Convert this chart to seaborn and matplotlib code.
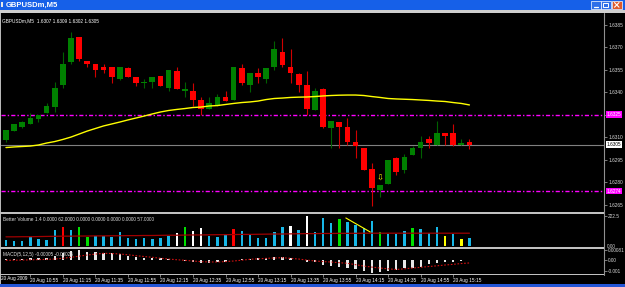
import matplotlib
matplotlib.use("Agg")
import matplotlib.pyplot as plt
from matplotlib.patches import Rectangle
from matplotlib.transforms import blended_transform_factory
import numpy as np
import pandas as pd
import seaborn as sns

# %% data  GBPUSDm M5, 20 Aug 2009 10:40 .. 15:25 (58 bars)
symbol = "GBPUSDm,M5"
opens = [1.6308, 1.6314, 1.6317, 1.6319, 1.6322, 1.6326, 1.6330, 1.6345, 1.6360, 1.6377,
         1.6361, 1.6359, 1.6357, 1.6357, 1.6349, 1.6356, 1.6350, 1.6346, 1.6347, 1.6351,
         1.6343, 1.6354, 1.6341, 1.6341, 1.6335, 1.6329, 1.6331, 1.6337, 1.6335, 1.6356,
         1.6345, 1.6353, 1.6349, 1.6357, 1.6367, 1.6357, 1.6352, 1.6345, 1.6328, 1.6342,
         1.6316, 1.6320, 1.6317, 1.6307, 1.6303, 1.6289, 1.6275, 1.6279, 1.6296, 1.6288,
         1.6298, 1.6303, 1.6309, 1.6305, 1.6313, 1.6313, 1.6305, 1.6307]
highs = [1.6315, 1.6319, 1.6321, 1.6326, 1.6325, 1.6333, 1.6347, 1.6367, 1.6380, 1.6377,
         1.6361, 1.6359, 1.6359, 1.6357, 1.6357, 1.6357, 1.6350, 1.6349, 1.6350, 1.6351,
         1.6355, 1.6357, 1.6347, 1.6346, 1.6337, 1.6337, 1.6339, 1.6341, 1.6357, 1.6359,
         1.6353, 1.6356, 1.6356, 1.6374, 1.6376, 1.6369, 1.6353, 1.6354, 1.6343, 1.6343,
         1.6321, 1.6320, 1.6323, 1.6315, 1.6303, 1.6293, 1.6278, 1.6295, 1.6297, 1.6299,
         1.6304, 1.6311, 1.6311, 1.6321, 1.6313, 1.6319, 1.6309, 1.6309]
lows = [1.6307, 1.6314, 1.6316, 1.6319, 1.6320, 1.6326, 1.6327, 1.6343, 1.6359, 1.6361,
        1.6357, 1.6350, 1.6353, 1.6346, 1.6348, 1.6350, 1.6344, 1.6343, 1.6343, 1.6344,
        1.6341, 1.6342, 1.6337, 1.6331, 1.6325, 1.6329, 1.6331, 1.6334, 1.6335, 1.6345,
        1.6340, 1.6346, 1.6346, 1.6355, 1.6357, 1.6346, 1.6340, 1.6325, 1.6328, 1.6316,
        1.6303, 1.6303, 1.6305, 1.6296, 1.6288, 1.6264, 1.6270, 1.6279, 1.6285, 1.6286,
        1.6298, 1.6296, 1.6303, 1.6305, 1.6305, 1.6304, 1.6305, 1.6302]
closes = [1.6315, 1.6319, 1.6320, 1.6323, 1.6325, 1.6331, 1.6343, 1.6359, 1.6376, 1.6362,
          1.6359, 1.6355, 1.6355, 1.6350, 1.6357, 1.6350, 1.6346, 1.6347, 1.6350, 1.6344,
          1.6355, 1.6342, 1.6342, 1.6335, 1.6329, 1.6333, 1.6337, 1.6334, 1.6357, 1.6346,
          1.6353, 1.6350, 1.6356, 1.6369, 1.6358, 1.6353, 1.6345, 1.6329, 1.6341, 1.6317,
          1.6321, 1.6317, 1.6307, 1.6304, 1.6288, 1.6276, 1.6278, 1.6295, 1.6287, 1.6297,
          1.6303, 1.6307, 1.6306, 1.6313, 1.6311, 1.6305, 1.6306, 1.6305]
movingAvg = [1.63031, 1.63035, 1.63038, 1.63041, 1.63048, 1.63061, 1.63071, 1.63085, 1.63101, 1.63121,
             1.63141, 1.63158, 1.63175, 1.63188, 1.63201, 1.63215, 1.63228, 1.63241, 1.63255, 1.63268,
             1.63278, 1.63285, 1.63291, 1.63298, 1.63301, 1.63308, 1.63311, 1.63318, 1.63325, 1.63331,
             1.63335, 1.63341, 1.63351, 1.63358, 1.63361, 1.63365, 1.63367, 1.63368, 1.63371, 1.63375,
             1.63378, 1.63380, 1.63381, 1.63381, 1.63378, 1.63371, 1.63365, 1.63358, 1.63355, 1.63353,
             1.63351, 1.63348, 1.63345, 1.63341, 1.63338, 1.63331, 1.63325, 1.63315]
# Better Volume
volume = [45, 37, 37, 67, 52, 45, 119, 141, 119, 141,
          67, 74, 74, 67, 104, 59, 52, 59, 52, 59,
          74, 96, 141, 111, 134, 74, 67, 82, 126, 111,
          89, 59, 59, 104, 141, 148, 119, 222, 104, 208,
          171, 200, 178, 156, 134, 186, 104, 89, 89, 111,
          134, 126, 96, 141, 74, 89, 52, 57]
volKind = ["neutral"] * 7 + ["climaxUp", "neutral", "churn", "churn"] + ["neutral"] * 10 + \
          ["climaxDown", "churn", "climaxDown", "climaxDown"] + ["neutral"] * 3 + ["climaxUp"] + \
          ["neutral"] * 6 + ["climaxDown", "neutral", "climaxDown"] + ["neutral"] * 3 + ["churn"] + \
          ["neutral"] * 4 + ["churn"] + ["neutral"] * 3 + ["churn"] + ["neutral"] * 3 + \
          ["lowVol", "neutral", "lowVol", "neutral"]
volAvg = [68, 68, 69, 69, 70, 71, 72, 73, 73, 74,
          74, 75, 75, 76, 76, 77, 77, 78, 78, 79,
          80, 80, 81, 82, 82, 83, 84, 84, 85, 86,
          86, 87, 88, 89, 89, 90, 91, 92, 92, 93,
          93, 94, 94, 94, 95, 95, 95, 95, 95, 95,
          95, 95, 95, 95, 95, 95, 95, 95]
# MACD in pips (0.0001)
macdPips = [0.3, 0.5, 0.5, 1.0, 1.2, 1.5, 3.3, 5.4, 7.6, 8.3,
            6.8, 6.2, 5.9, 5.4, 4.5, 3.3, 2.4, 1.5, 1.2, 0.9,
            0.4, -0.5, -1.3, -1.9, -2.8, -3.3, -2.5, -1.9, -0.5, 0.2,
            0.8, 0.9, 1.5, 2.4, 2.4, 1.5, -0.2, -1.9, -2.5, -4.8,
            -5.7, -6.2, -7.7, -8.3, -9.7, -11.5, -10.6, -10.0, -9.1, -7.7,
            -7.1, -6.2, -4.2, -2.8, -1.9, -1.9, -1.3, -0.5]
signalPips = [-0.7, -0.6, -0.5, -0.3, -0.1, 0.1, 0.4, 1.1, 1.9, 2.9,
              3.9, 4.7, 5.4, 5.2, 4.8, 4.1, 3.3, 2.6, 1.9, 1.1,
              0.4, -0.2, -0.7, -1.3, -1.9, -2.1, -2.2, -1.8, -1.3, -0.6,
              0.2, 0.6, 1.0, 1.3, 1.6, 1.0, 0.4, -0.5, -1.3, -1.8,
              -2.2, -2.8, -3.3, -4.5, -5.7, -6.6, -7.4, -8.1, -8.7, -8.1,
              -7.4, -6.8, -6.1, -5.5, -4.8, -4.2, -3.5, -3.0]
timeBars = [3, 7, 11, 15, 19, 23, 27, 31, 35, 39, 43, 47, 51, 55]
timeLabels = ["20 Aug 10:55", "20 Aug 11:15", "20 Aug 11:35", "20 Aug 11:55", "20 Aug 12:15",
              "20 Aug 12:35", "20 Aug 12:55", "20 Aug 13:15", "20 Aug 13:35", "20 Aug 13:55",
              "20 Aug 14:15", "20 Aug 14:35", "20 Aug 14:55", "20 Aug 15:15"]
priceTicks = [1.6385, 1.6370, 1.6355, 1.6340, 1.6310, 1.6295, 1.6280, 1.6265]
levelHi, levelLo, bid = 1.6325, 1.6274, 1.6305
arrowBar, arrowPrice = 46, 1.62828
trendBars, trendVol = [41.8, 44.8], [208, 104]

# %% style
sns.set_style("dark", {"axes.facecolor": "black", "figure.facecolor": "black"})
plt.rcParams["font.family"] = ["Liberation Sans", "DejaVu Sans"]
fs = 3.4
W, H = 625, 287
fig = plt.figure(figsize=(W / 100, H / 100), dpi=100, facecolor="black")

def pxAxes(x0, y0, x1, y1):
    return fig.add_axes([x0 / W, 1 - y1 / H, (x1 - x0) / W, (y1 - y0) / H])

ax = pxAxes(1.5, 12.5, 604, 212)
axv = pxAxes(1.5, 214, 604, 247)
axm = pxAxes(1.5, 249, 604, 273.5)
idx = np.arange(len(opens))
xlim = (-0.55, 73.55)

# %% price panel
o, h, l, c = map(np.array, (opens, highs, lows, closes))
up = c >= o
ax.vlines(idx, l, h, colors=np.where(up, "#006000", "#d00000"), lw=0.8, zorder=2)
ax.bar(idx, np.maximum(np.abs(c - o), 0.00007), bottom=np.minimum(o, c), width=0.7,
       color=np.where(up, "#008000", "#ff0000"), lw=0, zorder=3)
sns.lineplot(x=idx, y=movingAvg, ax=ax, color="#ffff00", lw=1.0, zorder=4)
dd = (0, (3, 1.5, 1, 1.5))
ax.axhline(levelHi, color="#ff00ff", lw=1.0, ls=dd, zorder=1)
ax.axhline(levelLo, color="#ff00ff", lw=1.0, ls=dd, zorder=1)
ax.axhline(bid, color="#808080", lw=0.8, zorder=1)
ax.text(arrowBar, arrowPrice, "\u21e9", color="#ffff00", fontsize=6, ha="center", va="center",
        family=["DejaVu Sans"])
ax.set_xlim(*xlim)
ax.set_ylim(1.626013, 1.639313)
ax.yaxis.tick_right()
ax.set_yticks(priceTicks + [levelHi])
ax.set_yticklabels([f"{t:.4f}" for t in priceTicks] + [""])
trans = blended_transform_factory(ax.transAxes, ax.transData)
for val, fc, tc in [(levelHi, "#ff00ff", "white"), (levelLo, "#ff00ff", "white"), (bid, "white", "black")]:
    ax.text(1.004, val, f"{val:.4f}", transform=trans, fontsize=fs, color=tc, ha="left", va="center",
            clip_on=False, zorder=6, bbox=dict(boxstyle="square,pad=0.15", fc=fc, ec="none"))

# %% volume panel
dfV = pd.DataFrame({"bar": idx, "volume": volume, "kind": volKind})
volPalette = {"neutral": "#17b8e8", "climaxUp": "#ff0000", "churn": "#00e000",
              "climaxDown": "#ffffff", "lowVol": "#ffff00"}
sns.barplot(data=dfV, x="bar", y="volume", hue="kind", palette=volPalette, native_scale=True,
            dodge=False, width=0.3, saturation=1, legend=False, errorbar=None, lw=0, ax=axv)
sns.lineplot(x=idx, y=volAvg, ax=axv, color="#a00000", lw=0.9)
axv.plot(trendBars, trendVol, color="#ffff00", lw=0.8)
axv.set_xlim(*xlim)
axv.set_ylim(-7.4, 237.4)
axv.yaxis.tick_right()
axv.set_yticks([222.5])
axv.set_yticklabels(["222.5"])
axv.text(0.002, 0.83, "Better Volume 1.4 0.0000 62.0000 0.0000 0.0000 0.0000 0.0000 57.0000",
         transform=axv.transAxes, fontsize=fs, color="#e0e0e0", ha="left", va="center")
axv.text(1.004, -2, "0.00", transform=blended_transform_factory(axv.transAxes, axv.transData),
         fontsize=fs, color="#d0d0d0", ha="left", va="center", clip_on=False)

# %% macd panel
macd = np.array(macdPips) / 10000
signal = np.array(signalPips) / 10000
sns.barplot(x=idx, y=macd, native_scale=True, color="#e6e6e6", width=0.28, saturation=1,
            errorbar=None, lw=0, ax=axm)
sns.lineplot(x=idx, y=signal, ax=axm, color="#d01010", lw=0.8, ls=(0, (1.5, 1.5)))
axm.set_xlim(*xlim)
axm.set_ylim(-0.001217, 0.000913)
axm.yaxis.tick_right()
axm.set_yticks([0.00081, 0, -0.001])
axm.set_yticklabels(["0.00081", "0.00", "-0.001"])
axm.text(0.002, 0.78, "MACD(5,12,5) -0.00005 -0.00025", transform=axm.transAxes,
         fontsize=fs, color="#e0e0e0", ha="left", va="center")
axm.set_xticks(timeBars)
axm.set_xticklabels(timeLabels)
for lbl in axm.get_xticklabels():
    lbl.set_ha("left")
axm.text(0.0, -0.12, "20 Aug 2009", transform=axm.transAxes,
         fontsize=fs, color="white", ha="left", va="top", clip_on=False)

for a in (ax, axv, axm):
    for s in a.spines.values():
        s.set_visible(False)
    a.set_xlabel("")
    a.set_ylabel("")
    a.tick_params(axis="y", which="both", right=True, left=False, length=2, width=0.6,
                  color="#909090", labelcolor="#d8d8d8", labelsize=fs, pad=1)
ax.tick_params(axis="x", bottom=False, labelbottom=False)
axv.tick_params(axis="x", bottom=False, labelbottom=False)
axm.tick_params(axis="x", bottom=True, length=2, width=0.6, color="#909090",
                labelcolor="white", labelsize=fs, pad=1.5)

# %% window chrome
ov = fig.add_axes([0, 0, 1, 1], zorder=10)
ov.set_xlim(0, W)
ov.set_ylim(H, 0)
ov.axis("off")
ov.patch.set_alpha(0)
ov.add_patch(Rectangle((0, 0), W, 9.5, fc="#1660e8", ec="none"))
ov.add_patch(Rectangle((0, 9.5), W, 3, fc="#cfcfcf", ec="none"))
ov.add_patch(Rectangle((0.5, 2), 2.5, 5, fc="#e8e8e8", ec="none"))
ov.text(5.5, 4.9, symbol, color="white", fontsize=5.5, fontweight="bold", ha="left", va="center")
for bx, fc in [(591, "#2f6fe8"), (601, "#2f6fe8"), (612, "#e05a2a")]:
    ov.add_patch(Rectangle((bx, 0.8), 9.5, 8.4, fc=fc, ec="white", lw=0.5))
ov.plot([593.5, 597.5], [7, 7], color="white", lw=0.9)
ov.add_patch(Rectangle((603.3, 2.6), 5, 4.6, fc="none", ec="white", lw=0.7))
ov.plot([614.5, 619], [2.6, 7.2], color="white", lw=0.8)
ov.plot([614.5, 619], [7.2, 2.6], color="white", lw=0.8)
ov.add_patch(Rectangle((0, 12.5), 1.3, 271.5, fc="#b8b8b8", ec="none"))
for y0, hh in [(212, 2), (247, 2), (273.5, 1)]:
    ov.add_patch(Rectangle((0, y0), 604, hh, fc="#c0c0c0", ec="none"))
ov.plot([604, 604], [12.5, 274.5], color="#909090", lw=0.8)
ov.add_patch(Rectangle((0, 284), W, 3, fc="#2456d6", ec="none"))
ov.text(1.5, 20.6, symbol + "  1.6307 1.6309 1.6302 1.6305", color="white", fontsize=fs,
        ha="left", va="center")

fig.savefig("out.png", dpi=100, facecolor="black")
